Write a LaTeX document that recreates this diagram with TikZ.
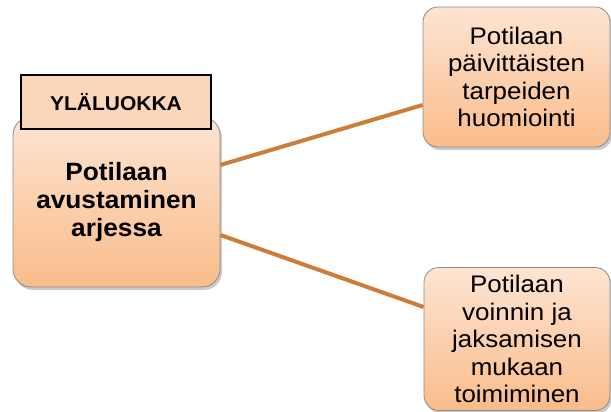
\documentclass[tikz,border=0pt]{standalone}
\usepackage{fontspec}
\setmainfont{Liberation Sans}
\newfontfamily\boxwide[FakeStretch=1.08]{Liberation Sans}
\newfontfamily\boxheavy[FakeStretch=1.05]{Liberation Sans}
\usetikzlibrary{shadows}
\definecolor{peachtop}{RGB}{253,228,210}
\definecolor{peachbot}{RGB}{250,188,138}
\definecolor{peachlbl}{RGB}{251,214,185}
\definecolor{linkbrown}{RGB}{205,125,55}
\begin{document}
\begin{tikzpicture}[x=1pt, y=-1pt,
  catbox/.style={draw=black!45, line width=0.8pt, rounded corners=18pt, top color=peachtop, bottom color=peachbot,
    align=center, inner sep=0pt, drop shadow={shadow xshift=2pt, shadow yshift=-3pt, opacity=0.35, fill=black!60}},
  subbox/.style={catbox, rounded corners=15pt, font=\boxwide\fontsize{24}{27.5}\selectfont},
  toplabel/.style={draw=black, line width=1.3pt, fill=peachlbl, align=center, inner sep=0pt,
    minimum width=190pt, minimum height=54pt, font=\boxheavy\fontsize{20}{22}\selectfont\bfseries},
  link/.style={linkbrown, line width=4pt}]
  \useasboundingbox (0,0) rectangle (611,412);
  \node[catbox, minimum width=207pt, minimum height=170pt, font=\boxheavy\fontsize{25}{28}\selectfont\bfseries] (main) at (116.5,202) {Potilaan\\avustaminen\\arjessa};
  \node[toplabel] (lbl) at (116,102) {YLÄLUOKKA};
  \node[subbox, minimum width=187pt, minimum height=140pt] (needs) at (516.5,77) {Potilaan\\päivittäisten\\tarpeiden\\huomiointi};
  \node[subbox, minimum width=186pt, minimum height=143pt] (pace) at (517,339) {Potilaan\\voinnin ja\\jaksamisen\\mukaan\\toimiminen};
  \draw[link] ([yshift=37pt]main.east) -- ([yshift=-28pt]needs.west);
  \draw[link] ([yshift=-33pt]main.east) -- ([yshift=32pt]pace.west);
\end{tikzpicture}
\end{document}
